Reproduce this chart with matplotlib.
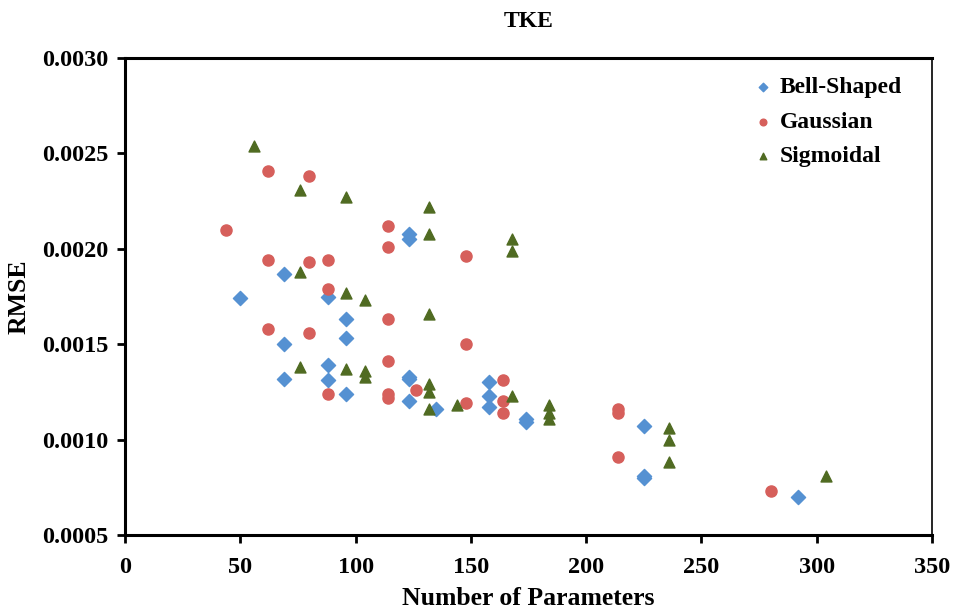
import matplotlib.pyplot as plt

# RMSE against model size for the three membership function types
bell_x = [50, 69, 69, 69, 88, 88, 88, 96, 96, 96, 123, 123, 123, 123, 123,
          135, 158, 158, 158, 174, 174, 225, 225, 225, 292]
bell_y = [0.00174, 0.00187, 0.00150, 0.00132, 0.00175, 0.00139, 0.00131,
          0.00163, 0.00153, 0.00124, 0.00208, 0.00205, 0.00133, 0.00132,
          0.00120, 0.00116, 0.00130, 0.00123, 0.00117, 0.00111, 0.00109,
          0.00107, 0.00081, 0.00080, 0.00070]

gauss_x = [44, 62, 62, 62, 80, 80, 80, 88, 88, 88, 114, 114, 114, 114, 114,
           114, 126, 148, 148, 148, 164, 164, 164, 214, 214, 214, 280]
gauss_y = [0.00210, 0.00241, 0.00194, 0.00158, 0.00238, 0.00193, 0.00156,
           0.00194, 0.00179, 0.00124, 0.00212, 0.00201, 0.00163, 0.00141,
           0.00124, 0.00122, 0.00126, 0.00196, 0.00150, 0.00119, 0.00131,
           0.00120, 0.00114, 0.00116, 0.00114, 0.00091, 0.00073]

sig_x = [56, 76, 76, 76, 96, 96, 96, 104, 104, 104, 132, 132, 132, 132, 132,
         132, 144, 168, 168, 168, 184, 184, 184, 236, 236, 236, 304]
sig_y = [0.00254, 0.00231, 0.00188, 0.00138, 0.00227, 0.00177, 0.00137,
         0.00173, 0.00136, 0.00133, 0.00222, 0.00208, 0.00166, 0.00129,
         0.00125, 0.00116, 0.00118, 0.00205, 0.00199, 0.00123, 0.00118,
         0.00114, 0.00111, 0.00106, 0.00100, 0.00088, 0.00081]

x_ticks = [0, 50, 100, 150, 200, 250, 300, 350]
y_ticks = [0.0005, 0.0010, 0.0015, 0.0020, 0.0025, 0.0030]

plt.rcParams['font.family'] = ['Liberation Serif', 'DejaVu Serif']
plt.rcParams['font.weight'] = 'bold'

fig = plt.figure(figsize=(9.55, 6.14), dpi=100)
ax = fig.add_axes([0.1309, 0.1287, 0.8451, 0.7768])

ax.scatter(bell_x, bell_y, marker='D', s=52, color='#5591D2', label='Bell-Shaped', zorder=3)
ax.scatter(gauss_x, gauss_y, marker='o', s=64, color='#D65F5B', label='Gaussian', zorder=3)
ax.scatter(sig_x, sig_y, marker='^', s=62, color='#506B22', label='Sigmoidal', zorder=3)

ax.set_xlim(0, 350)
ax.set_ylim(0.0005, 0.0030)
ax.set_xticks(x_ticks)
ax.set_yticks(y_ticks)
ax.set_yticklabels([f'{v:.4f}' for v in y_ticks])
ax.tick_params(axis='both', direction='out', length=6, width=2, labelsize=17.5)
ax.tick_params(axis='x', pad=10)
ax.tick_params(axis='y', pad=6)

for side in ['left', 'bottom', 'top']:
    ax.spines[side].set_linewidth(2.2)
ax.spines['right'].set_linewidth(1.2)

ax.set_title('TKE', fontsize=17, fontweight='bold', pad=22)
ax.set_xlabel('Number of Parameters', fontsize=18.5, fontweight='bold', labelpad=6)
ax.set_ylabel('RMSE', fontsize=18.5, fontweight='bold', labelpad=8)

leg = ax.legend(loc='upper right', bbox_to_anchor=(0.986, 1.0), frameon=False,
                fontsize=17, markerscale=0.6, handletextpad=0.1,
                labelspacing=0.55, borderaxespad=0.4, handlelength=1.2)

fig.savefig('out.png', dpi=100)
